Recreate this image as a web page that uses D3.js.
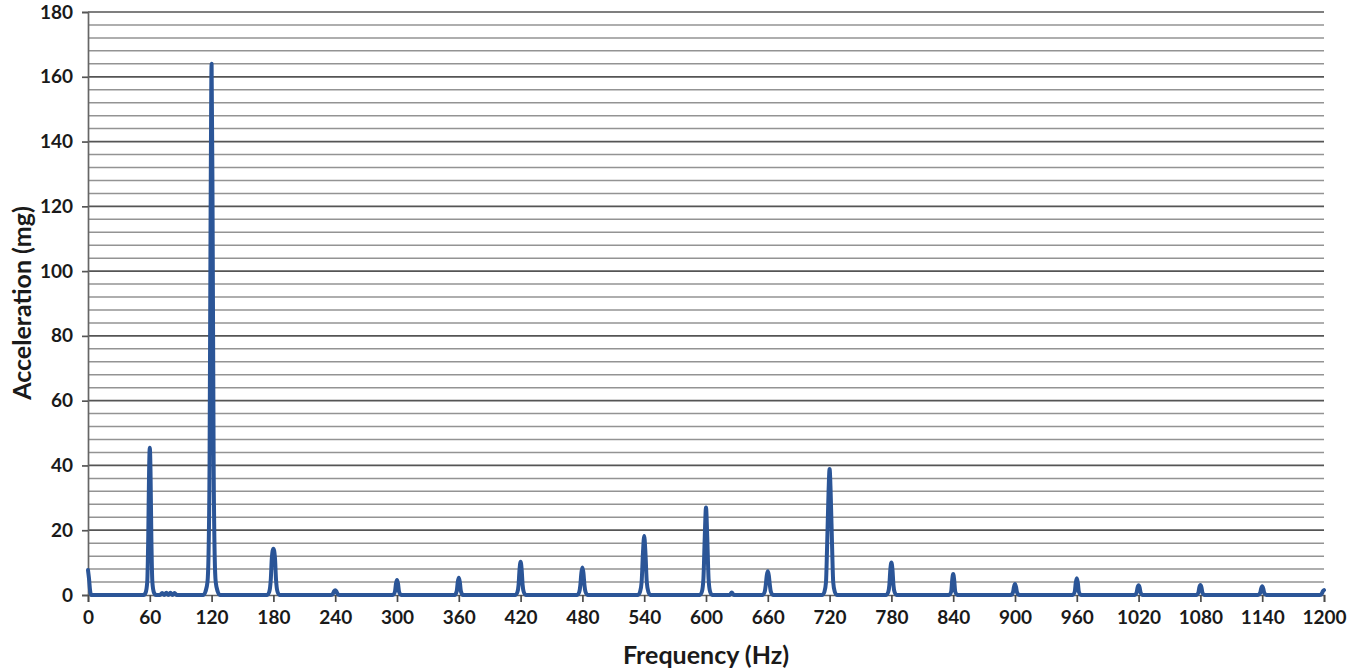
<!DOCTYPE html>
<html>
<head>
<meta charset="utf-8">
<script src="https://cdn.jsdelivr.net/npm/d3@7"></script>
<style>
  html, body { margin: 0; padding: 0; background: #ffffff; }
  svg { display: block; }
  text { font-family: Lato, "Open Sans", sans-serif; font-weight: 700; fill: #1a1a1a; }
</style>
</head>
<body>
<svg id="chart" width="1359" height="671"></svg>
<script>
// ---- data ----
const xTickValues = [0, 60, 120, 180, 240, 300, 360, 420, 480, 540, 600, 660, 720, 780, 840, 900, 960, 1020, 1080, 1140, 1200];
const yMajorTicks = [0, 20, 40, 60, 80, 100, 120, 140, 160, 180];
const yMinorTicks = [4, 8, 12, 16, 24, 28, 32, 36, 44, 48, 52, 56, 64, 68, 72, 76, 84, 88, 92, 96,
                     104, 108, 112, 116, 124, 128, 132, 136, 144, 148, 152, 156, 164, 168, 172, 176];
const xTitle = "Frequency (Hz)";
const yTitle = "Acceleration (mg)";

// spectrum: [frequency Hz, acceleration mg]
const spectrumPoints = [
  [0, 7.7], [1, 5], [2, 1.5], [3, 0],
  [54, 0], [56, 0.8], [57.5, 4], [58.5, 18], [59.3, 38], [60, 45.5], [60.7, 38], [61.5, 18], [62.5, 4], [64, 0.8], [66, 0],
  [70, 0], [72, 0.6], [74, 0], [76, 0.7], [78, 0], [80, 0.7], [82, 0], [84, 0.6], [86, 0],
  [112, 0], [114, 1], [116, 4], [117, 12], [118, 40], [119, 115], [120, 164], [121, 115], [122, 40], [123, 12], [124, 4], [126, 1], [128, 0],
  [174, 0], [176, 1], [177.5, 5], [178.5, 11.5], [180, 14.3], [181.5, 11.5], [182.5, 5], [184, 1], [186, 0],
  [236, 0], [238, 0.5], [239, 1.2], [240, 1.5], [241, 1.2], [242, 0.5], [244, 0],
  [296, 0], [298, 1], [299, 3.5], [300, 4.6], [301, 3.5], [302, 1], [304, 0],
  [356, 0], [358, 1.2], [359, 4], [360, 5.3], [361, 4], [362, 1.2], [364, 0],
  [415, 0], [417, 1], [418, 3], [419, 8], [420, 10.3], [421, 8], [422, 3], [423, 1], [425, 0],
  [475, 0], [477, 1], [478, 3], [479, 6.8], [480, 8.5], [481, 6.8], [482, 3], [483, 1], [485, 0],
  [534, 0], [536, 1], [537.5, 4], [538.8, 13], [540, 18.2], [541.2, 13], [542.5, 4], [544, 1], [546, 0],
  [594, 0], [596, 1], [597.5, 5], [598.8, 18], [600, 27], [601.2, 18], [602.5, 5], [604, 1], [606, 0],
  [623, 0], [625, 0.8], [627, 0],
  [655, 0], [657, 1], [658, 3], [659, 6], [660, 7.3], [661, 6], [662, 3], [663, 1], [665, 0],
  [713, 0], [715, 1], [716.5, 4], [717.5, 14], [719, 32], [720, 38.9], [721, 32], [722.5, 14], [723.5, 4], [725, 1], [727, 0],
  [775, 0], [777, 1], [778, 3], [779, 8], [780, 10], [781, 8], [782, 3], [783, 1], [785, 0],
  [836, 0], [838, 1], [839, 4.5], [840, 6.5], [841, 4.5], [842, 1], [844, 0],
  [896, 0], [898, 0.8], [899, 2.5], [900, 3.4], [901, 2.5], [902, 0.8], [904, 0],
  [956, 0], [958, 1], [959, 3.8], [960, 5.2], [961, 3.8], [962, 1], [964, 0],
  [1016, 0], [1018, 0.7], [1019, 2.3], [1020, 3], [1021, 2.3], [1022, 0.7], [1024, 0],
  [1076, 0], [1078, 0.7], [1079, 2.4], [1080, 3.1], [1081, 2.4], [1082, 0.7], [1084, 0],
  [1136, 0], [1138, 0.6], [1139, 2], [1140, 2.7], [1141, 2], [1142, 0.6], [1144, 0],
  [1196, 0], [1198, 0.5], [1199, 1.2], [1200, 1.5]
];

// ---- layout ----
const svg = d3.select("#chart");
const plotLeft = 88, plotRight = 1324, plotTop = 12, plotBottom = 595;

const x = d3.scaleLinear().domain([0, 1200]).range([plotLeft, plotRight]);
const y = d3.scaleLinear().domain([0, 180]).range([plotBottom, plotTop]);

// minor grid
svg.append("g").selectAll("line").data(yMinorTicks).join("line")
  .attr("x1", plotLeft).attr("x2", plotRight)
  .attr("y1", d => y(d)).attr("y2", d => y(d))
  .attr("stroke", "#939393").attr("stroke-width", 1.5);

// major grid
svg.append("g").selectAll("line").data(yMajorTicks.filter(d => d > 0)).join("line")
  .attr("x1", plotLeft).attr("x2", plotRight)
  .attr("y1", d => y(d)).attr("y2", d => y(d))
  .attr("stroke", "#555555").attr("stroke-width", 1.7);

// y axis
const yAxis = d3.axisLeft(y).tickValues(yMajorTicks).tickSize(6).tickPadding(9).tickFormat(d3.format("d"));
const gy = svg.append("g").attr("transform", `translate(${plotLeft},0)`).call(yAxis);
gy.select(".domain").attr("stroke", "#666666").attr("stroke-width", 1.7);
gy.selectAll(".tick line").attr("stroke", "#555555").attr("stroke-width", 1.7);
gy.selectAll(".tick text").style("font-size", "19px").style("font-family", "Lato, sans-serif").style("font-weight", 700).attr("fill", "#1a1a1a");

// x axis
const xAxis = d3.axisBottom(x).tickValues(xTickValues).tickSize(7).tickPadding(9).tickFormat(d3.format("d"));
const gx = svg.append("g").attr("transform", `translate(0,${plotBottom})`).call(xAxis);
gx.select(".domain").attr("stroke", "#666666").attr("stroke-width", 1.7);
gx.selectAll(".tick line").attr("stroke", "#4a4a4a").attr("stroke-width", 1.7);
gx.selectAll(".tick text").style("font-size", "19px").style("font-family", "Lato, sans-serif").style("font-weight", 700).attr("fill", "#1a1a1a");

// spectrum line
const line = d3.line().x(d => x(d[0])).y(d => y(d[1])).curve(d3.curveMonotoneX);
svg.append("path")
  .datum(spectrumPoints)
  .attr("d", line)
  .attr("fill", "none")
  .attr("stroke", "#2b5597")
  .attr("stroke-width", 4)
  .attr("stroke-linejoin", "round")
  .attr("stroke-linecap", "round");

// titles
svg.append("text")
  .attr("x", 706)
  .attr("y", 664)
  .attr("text-anchor", "middle")
  .style("font-size", "25px")
  .text(xTitle);

svg.append("text")
  .attr("transform", `translate(31,${303}) rotate(-90)`)
  .attr("text-anchor", "middle")
  .style("font-size", "25px")
  .text(yTitle);
</script>
</body>
</html>
